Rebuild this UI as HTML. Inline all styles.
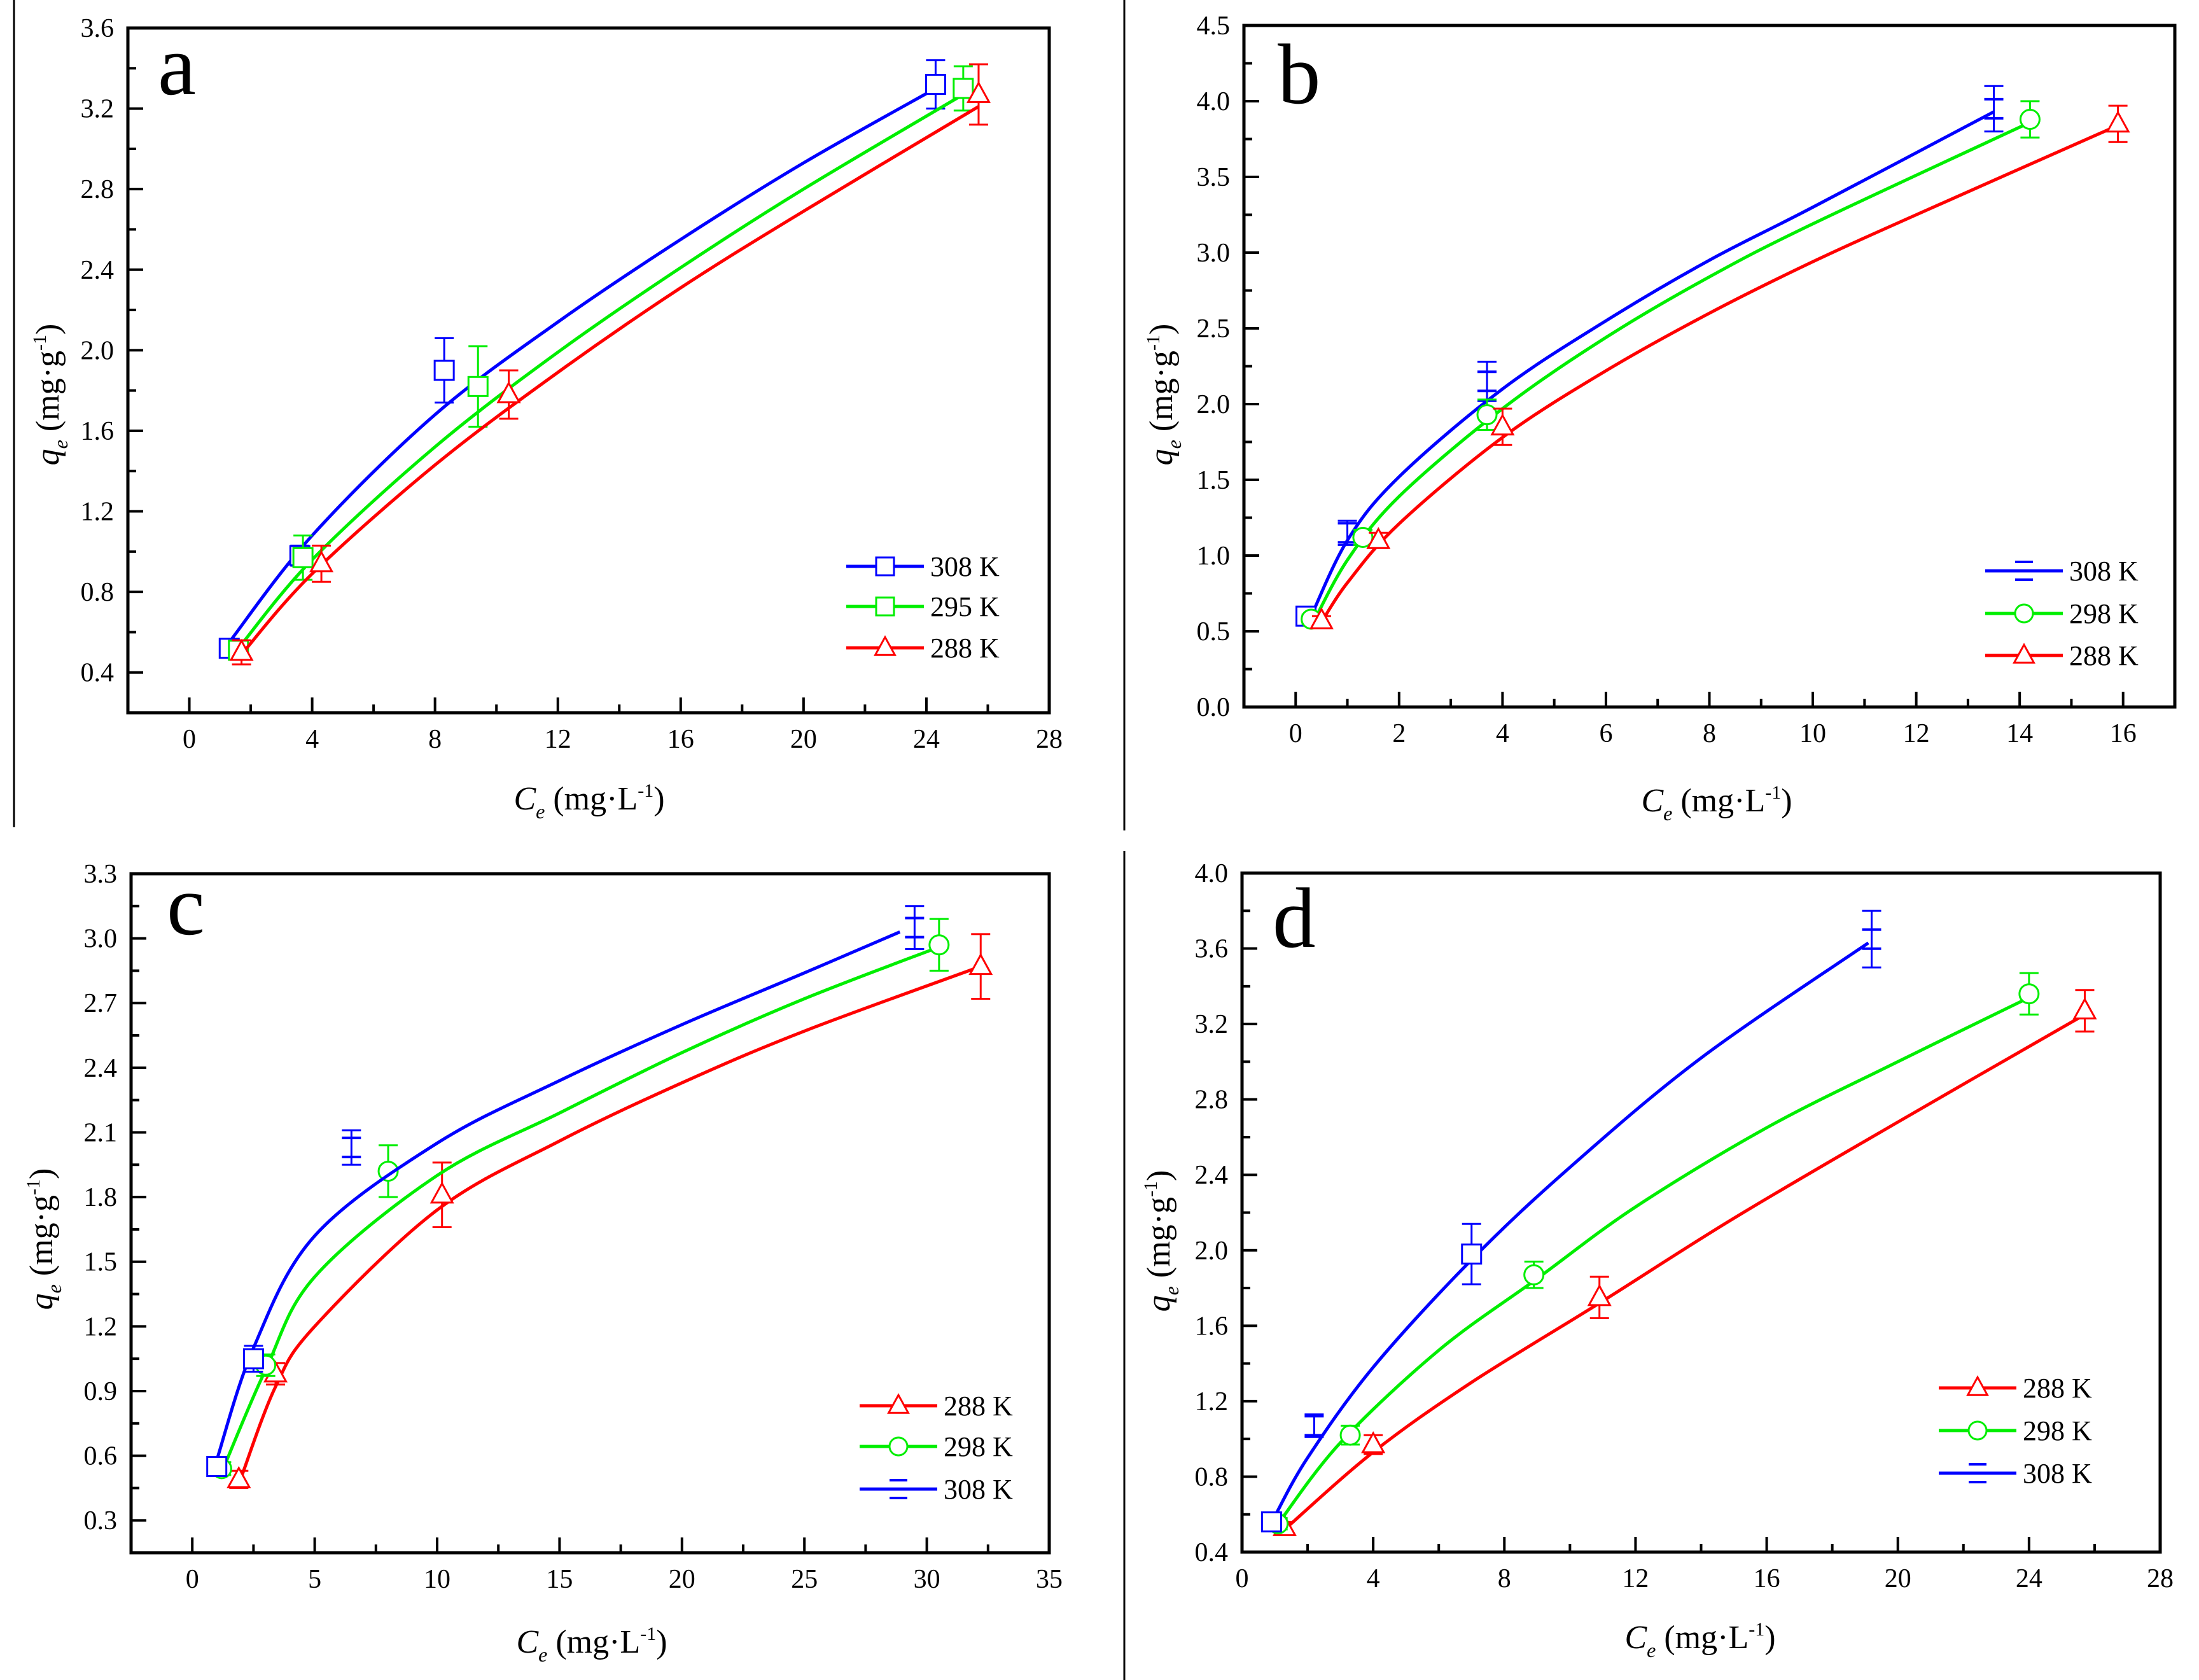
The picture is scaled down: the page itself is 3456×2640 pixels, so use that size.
<!DOCTYPE html>
<html><head><meta charset="utf-8">
<style>
html,body{margin:0;padding:0;background:#fff;}
svg{display:block;}
svg text{font-family:"Liberation Serif","Times New Roman",serif;}
</style></head>
<body>
<svg id="fig" width="3456" height="2640" viewBox="0 0 3456 2640" xmlns="http://www.w3.org/2000/svg" font-family="Liberation Serif, serif">
<rect x="0" y="0" width="3456" height="2640" fill="#fff"/>
<line x1="22" y1="0" x2="22" y2="1300" stroke="#000" stroke-width="3"/>
<line x1="1767" y1="0" x2="1767" y2="1305" stroke="#000" stroke-width="3"/>
<line x1="1767" y1="1337" x2="1767" y2="2640" stroke="#000" stroke-width="3"/>
</svg>
<script>
// ---------- Panel a data ----------
const aX308=[1.3,3.6,8.3,24.3], aY308=[0.52,0.98,1.90,3.32], aE308=[0.03,0.05,0.16,0.12];
const aX295=[1.6,3.7,9.4,25.2], aY295=[0.51,0.97,1.82,3.30], aE295=[0.04,0.11,0.20,0.11];
const aX288=[1.7,4.3,10.4,25.7], aY288=[0.50,0.94,1.78,3.27], aE288=[0.06,0.09,0.12,0.15];
const aFX308=[1.3,4,8,12,16,20,24.3], aFY308=[0.55,1.08,1.68,2.14,2.55,2.93,3.30];
const aFX295=[1.6,4,8,12,16,20,25.2], aFY295=[0.52,0.96,1.52,1.99,2.41,2.80,3.27];
const aFX288=[1.7,4,8,12,16,20,25.7], aFY288=[0.49,0.89,1.43,1.89,2.31,2.69,3.21];
const aXTicks=[0,4,8,12,16,20,24,28], aYTicks=[0.4,0.8,1.2,1.6,2.0,2.4,2.8,3.2,3.6];
const aXLabels=["0","4","8","12","16","20","24","28"], aYLabels=["0.4","0.8","1.2","1.6","2.0","2.4","2.8","3.2","3.6"];
// ---------- Panel b data ----------
const bX308=[0.2,1.0,3.7,13.5], bY308=[0.60,1.15,2.15,3.95], bE308=[0.05,0.08,0.13,0.15];
const bX298=[0.3,1.3,3.7,14.2], bY298=[0.58,1.12,1.93,3.88], bE298=[0.03,0.05,0.10,0.12];
const bX288=[0.5,1.6,4.0,15.9], bY288=[0.57,1.10,1.85,3.85], bE288=[0.03,0.05,0.12,0.12];
const bFX308=[0.25,1,2,4,6,8,10,13.5], bFY308=[0.56,1.10,1.52,2.10,2.55,2.95,3.30,3.93];
const bFX298=[0.3,1,2,4,6,8,10,14.2], bFY298=[0.53,0.97,1.39,1.97,2.44,2.84,3.19,3.86];
const bFX288=[0.5,1,2,4,6,8,10,12,15.9], bFY288=[0.56,0.82,1.21,1.78,2.22,2.60,2.94,3.25,3.84];
const bXTicks=[0,2,4,6,8,10,12,14,16], bYTicks=[0,0.5,1,1.5,2,2.5,3,3.5,4,4.5];
const bXLabels=["0","2","4","6","8","10","12","14","16"], bYLabels=["0.0","0.5","1.0","1.5","2.0","2.5","3.0","3.5","4.0","4.5"];
// ---------- Panel c data ----------
const cX308=[1.0,2.5,6.5,29.5], cY308=[0.55,1.05,2.03,3.05], cE308=[0.03,0.06,0.08,0.10];
const cX298=[1.2,3.0,8.0,30.5], cY298=[0.54,1.02,1.92,2.97], cE298=[0.03,0.05,0.12,0.12];
const cX288=[1.9,3.4,10.2,32.2], cY288=[0.49,0.98,1.81,2.87], cE288=[0.04,0.05,0.15,0.15];
const cFX308=[1.0,2.5,5,10,15,20,25,28.9], cFY308=[0.58,1.10,1.62,2.05,2.34,2.60,2.84,3.03];
const cFX298=[1.3,3.0,5,10,15,20,25,30.5], cFY298=[0.55,1.00,1.43,1.90,2.19,2.47,2.72,2.96];
const cFX288=[2.0,3.4,5,10,15,20,25,32.2], cFY288=[0.50,0.92,1.20,1.74,2.06,2.33,2.57,2.87];
const cXTicks=[0,5,10,15,20,25,30,35], cYTicks=[0.3,0.6,0.9,1.2,1.5,1.8,2.1,2.4,2.7,3.0,3.3];
const cXLabels=["0","5","10","15","20","25","30","35"], cYLabels=["0.3","0.6","0.9","1.2","1.5","1.8","2.1","2.4","2.7","3.0","3.3"];
// ---------- Panel d data ----------
const dX288=[1.3,4.0,10.9,25.7], dY288=[0.53,0.97,1.75,3.27], dE288=[0.03,0.05,0.11,0.11];
const dX298=[1.1,3.3,8.9,24.0], dY298=[0.55,1.02,1.87,3.36], dE298=[0.03,0.05,0.07,0.11];
const dX308=[0.9,2.2,7.0,19.2], dY308=[0.56,1.07,1.98,3.65], dE308=[0.03,0.06,0.16,0.15];
const dFX288=[1.3,4,7,10.9,15,20,25.7], dFY288=[0.52,0.93,1.30,1.72,2.17,2.68,3.25];
const dFX298=[1.1,3,6,9,12,16,20,24], dFY298=[0.55,0.98,1.47,1.85,2.23,2.65,3.00,3.34];
const dFX308=[1.0,2,4,7,10,14,19.1], dFY308=[0.59,0.90,1.38,1.95,2.44,3.02,3.63];
const dXTicks=[0,4,8,12,16,20,24,28], dYTicks=[0.4,0.8,1.2,1.6,2.0,2.4,2.8,3.2,3.6,4.0];
const dXLabels=["0","4","8","12","16","20","24","28"], dYLabels=["0.4","0.8","1.2","1.6","2.0","2.4","2.8","3.2","3.6","4.0"];

const NS="http://www.w3.org/2000/svg";
const FONT="Liberation Serif, Times New Roman, serif";
const svg=document.getElementById('fig');
const BLUE="#0000ff", GREEN="#00ee00", RED="#ff0000";
function mk(tag,attrs,parent){const e=document.createElementNS(NS,tag);for(const k in attrs)e.setAttribute(k,attrs[k]);if(tag==='text')e.setAttribute('font-family',FONT);(parent||svg).appendChild(e);return e;}

function smoothPath(px,py){
  let d="M"+px[0]+","+py[0];
  for(let i=0;i<px.length-1;i++){
    const x0=px[Math.max(i-1,0)],y0=py[Math.max(i-1,0)],x1=px[i],y1=py[i],x2=px[i+1],y2=py[i+1],x3=px[Math.min(i+2,px.length-1)],y3=py[Math.min(i+2,px.length-1)];
    d+=" C"+(x1+(x2-x0)/6)+","+(y1+(y2-y0)/6)+" "+(x2-(x3-x1)/6)+","+(y2-(y3-y1)/6)+" "+x2+","+y2;
  }
  return d;
}

function marker(g,type,cx,cy,color,sz){
  let m;
  if(type==="square") m=mk('rect',{x:cx-sz/2,y:cy-sz/2,width:sz,height:sz,fill:"#fff",stroke:color,"stroke-width":3},g);
  else if(type==="circle") m=mk('circle',{cx:cx,cy:cy,r:sz/2,fill:"#fff",stroke:color,"stroke-width":3},g);
  else if(type==="triangle") m=mk('polygon',{points:(cx)+","+(cy-sz*0.6)+" "+(cx-sz*0.55)+","+(cy+sz*0.4)+" "+(cx+sz*0.55)+","+(cy+sz*0.4),fill:"#fff",stroke:color,"stroke-width":3},g);
  else { m=mk('path',{d:"M"+(cx-sz/2)+","+(cy-sz/2)+"h"+sz+"M"+(cx-sz/2)+","+(cy+sz/2)+"h"+sz,fill:"none",stroke:color,"stroke-width":4},g); }
  
  
}

function panel(P){
  const g=mk('g',{});
  
  
  const sx=v=>P.L+(v-P.x0)/(P.x1-P.x0)*(P.R-P.L);
  const sy=v=>P.B-(v-P.y0)/(P.y1-P.y0)*(P.B-P.T);
  const tg=mk('g',{stroke:"#000","stroke-width":4},g);
  
  
  for(let v=P.xMinorStart;v<=P.x1+1e-9;v+=P.xMinor){const X=sx(v);const major=P.xTicks.some(t=>Math.abs(t-v)<1e-6);mk('line',{x1:X,y1:P.B,x2:X,y2:P.B-(major?24:13)},tg);}
  for(let v=P.yMinorStart;v<=P.y1+1e-9;v+=P.yMinor){const Y=sy(v);const major=P.yTicks.some(t=>Math.abs(t-v)<1e-6);mk('line',{x1:P.L,y1:Y,x2:P.L+(major?24:13),y2:Y},tg);}
  const fr=mk('rect',{x:P.L,y:P.T,width:P.R-P.L,height:P.B-P.T,fill:"none",stroke:"#000","stroke-width":5},g);
  
  
  P.xTicks.forEach((t,i)=>{const e=mk('text',{x:sx(t),y:P.B+55,"font-size":42,"text-anchor":"middle"},g);e.textContent=P.xLabels[i];
    
    });
  P.yTicks.forEach((t,i)=>{const e=mk('text',{x:P.L-22,y:sy(t)+14,"font-size":42,"text-anchor":"end"},g);e.textContent=P.yLabels[i];
    
    });
  const lt=mk('text',{x:P.letterX,y:P.letterY,"font-size":135},g);lt.textContent=P.id;
  
  
  const xt=mk('text',{x:P.xtX,y:P.xtY,"font-size":52,"text-anchor":"middle"},g);
  
  
  xt.innerHTML='<tspan font-style="italic">C</tspan><tspan font-size="32" dy="14" font-style="italic">e</tspan><tspan dy="-14"> (mg·L</tspan><tspan font-size="30" dy="-20">-1</tspan><tspan dy="20">)</tspan>';
  const yt=mk('text',{x:0,y:0,"font-size":52,"text-anchor":"middle",transform:"translate("+P.ytX+","+P.ytY+") rotate(-90)"},g);
  
  
  yt.innerHTML='<tspan font-style="italic">q</tspan><tspan font-size="32" dy="14" font-style="italic">e</tspan><tspan dy="-14"> (mg·g</tspan><tspan font-size="30" dy="-20">-1</tspan><tspan dy="20">)</tspan>';
  P.series.forEach((s,si)=>{
    const sg=mk('g',{},g);
    
    
    const c=mk('path',{d:smoothPath(s.fx.map(sx),s.fy.map(sy)),fill:"none",stroke:s.color,"stroke-width":5},sg);
    
    
    s.x.forEach((xv,i)=>{
      const X=sx(xv),Y1=sy(s.y[i]+s.e[i]),Y2=sy(s.y[i]-s.e[i]);
      const eb=mk('path',{d:"M"+X+","+Y1+"V"+Y2+"M"+(X-15)+","+Y1+"h30M"+(X-15)+","+Y2+"h30",stroke:s.color,"stroke-width":3,fill:"none"},sg);
      
      
      const mt=s.pm?s.pm[i]:s.marker;
      marker(sg,mt,X,sy(s.y[i]),s.color,30);
    });
    const ly=P.legY[si];
    const lg=mk('g',{},g);
    
    
    mk('line',{x1:P.legX,y1:ly,x2:P.legX+122,y2:ly,stroke:s.color,"stroke-width":5},lg);
    marker(lg,s.marker,P.legX+61,ly,s.color,28);
    const txt=mk('text',{x:P.legX+132,y:ly+15,"font-size":44},lg);txt.textContent=s.name;
  });
}

panel({id:"a",L:201,R:1649,T:44,B:1120,x0:-2,x1:28,y0:0.2,y1:3.6,
  xTicks:aXTicks,yTicks:aYTicks,xLabels:aXLabels,yLabels:aYLabels,xMinor:2,xMinorStart:-2,yMinor:0.2,yMinorStart:0.2,
  letterX:248,letterY:148,xtX:926,xtY:1272,ytX:92,ytY:620,legX:1330,legY:[890,953,1018],
  series:[{name:"308 K",color:BLUE,marker:"square",x:aX308,y:aY308,e:aE308,fx:aFX308,fy:aFY308},
          {name:"295 K",color:GREEN,marker:"square",x:aX295,y:aY295,e:aE295,fx:aFX295,fy:aFY295},
          {name:"288 K",color:RED,marker:"triangle",x:aX288,y:aY288,e:aE288,fx:aFX288,fy:aFY288}]});
panel({id:"b",L:1955,R:3418,T:40,B:1111,x0:-1,x1:17,y0:0,y1:4.5,
  xTicks:bXTicks,yTicks:bYTicks,xLabels:bXLabels,yLabels:bYLabels,xMinor:1,xMinorStart:-1,yMinor:0.25,yMinorStart:0,
  letterX:2008,letterY:162,xtX:2698,xtY:1275,ytX:1842,ytY:620,legX:3120,legY:[897,964,1030],
  series:[{name:"308 K",color:BLUE,marker:"dash",pm:["square","dash","dash","dash"],x:bX308,y:bY308,e:bE308,fx:bFX308,fy:bFY308},
          {name:"298 K",color:GREEN,marker:"circle",x:bX298,y:bY298,e:bE298,fx:bFX298,fy:bFY298},
          {name:"288 K",color:RED,marker:"triangle",x:bX288,y:bY288,e:bE288,fx:bFX288,fy:bFY288}]});
panel({id:"c",L:206,R:1649,T:1373,B:2440,x0:-2.5,x1:35,y0:0.15,y1:3.3,
  xTicks:cXTicks,yTicks:cYTicks,xLabels:cXLabels,yLabels:cYLabels,xMinor:2.5,xMinorStart:-2.5,yMinor:0.15,yMinorStart:0.15,
  letterX:262,letterY:1468,xtX:930,xtY:2597,ytX:82,ytY:1947,legX:1351,legY:[2209,2273,2340],
  series:[{name:"288 K",color:RED,marker:"triangle",x:cX288,y:cY288,e:cE288,fx:cFX288,fy:cFY288},
          {name:"298 K",color:GREEN,marker:"circle",x:cX298,y:cY298,e:cE298,fx:cFX298,fy:cFY298},
          {name:"308 K",color:BLUE,marker:"dash",pm:["square","square","dash","dash"],x:cX308,y:cY308,e:cE308,fx:cFX308,fy:cFY308}]});
panel({id:"d",L:1952,R:3395,T:1372,B:2439,x0:0,x1:28,y0:0.4,y1:4.0,
  xTicks:dXTicks,yTicks:dYTicks,xLabels:dXLabels,yLabels:dYLabels,xMinor:2,xMinorStart:0,yMinor:0.2,yMinorStart:0.4,
  letterX:2000,letterY:1488,xtX:2672,xtY:2590,ytX:1838,ytY:1950,legX:3047,legY:[2181,2248,2315],
  series:[{name:"288 K",color:RED,marker:"triangle",x:dX288,y:dY288,e:dE288,fx:dFX288,fy:dFY288},
          {name:"298 K",color:GREEN,marker:"circle",x:dX298,y:dY298,e:dE298,fx:dFX298,fy:dFY298},
          {name:"308 K",color:BLUE,marker:"dash",pm:["square","dash","square","dash"],x:dX308,y:dY308,e:dE308,fx:dFX308,fy:dFY308}]});
</script>
</body></html>
